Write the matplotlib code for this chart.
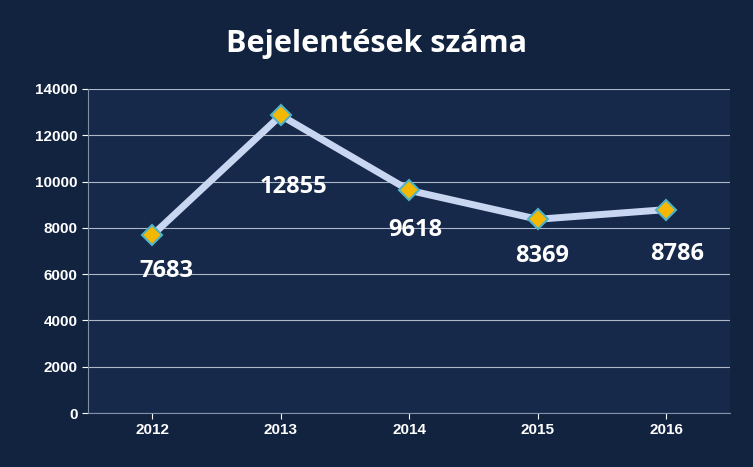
import matplotlib.pyplot as plt

years = ["2012", "2013", "2014", "2015", "2016"]
counts = [7683, 12855, 9618, 8369, 8786]
yticks = [0, 2000, 4000, 6000, 8000, 10000, 12000, 14000]

# label offsets in pixels (dx, dy) relative to each point
label_offsets = [(14, -36), (13, -72), (6, -40), (4, -37), (11, -44)]

fig = plt.figure(figsize=(7.53, 4.67), dpi=100, facecolor="#12233f")
ax = fig.add_axes([0.117, 0.1156, 0.853, 0.694])
ax.set_facecolor("#16294a")

x = range(len(years))
ax.plot(x, counts, color="#c9d6f2", lw=5, zorder=3)
ax.plot(x, counts, ls="none", marker="D", ms=10, mfc="#f5b800",
        mec="#4fb3c8", mew=1.5, zorder=4)

for xi, v, (dx, dy) in zip(x, counts, label_offsets):
    ax.annotate(str(v), (xi, v), xytext=(dx * 0.72, dy * 0.72),
                textcoords="offset points", ha="center", va="center",
                color="white", fontsize=17, fontweight="bold",
                family="Open Sans")

ax.set_xlim(-0.5, len(years) - 0.5)
ax.set_ylim(0, 14000)
ax.set_yticks(yticks)
ax.set_xticks(list(x))
ax.set_xticklabels(years)
ax.grid(axis="y", color="#b0b8c8", lw=0.8)
ax.set_axisbelow(True)
for s in ["top", "right"]:
    ax.spines[s].set_visible(False)
for s in ["left", "bottom"]:
    ax.spines[s].set_color("#8090a8")
ax.tick_params(colors="white", labelsize=11, length=4)
for lab in ax.get_xticklabels() + ax.get_yticklabels():
    lab.set_fontweight("bold")
    lab.set_family("Liberation Sans")

fig.text(0.5, 0.905, "Bejelentések száma", ha="center", va="center",
         color="white", fontsize=22, fontweight="bold", family="Open Sans")

fig.savefig("out.png", dpi=100, facecolor=fig.get_facecolor())
